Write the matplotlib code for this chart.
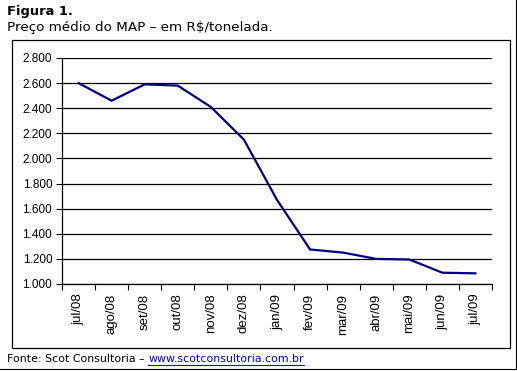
import matplotlib
matplotlib.use("Agg")
import matplotlib.pyplot as plt
from matplotlib.patches import Rectangle
from matplotlib.lines import Line2D
import numpy as np

# dados
meses = ["jul/08", "ago/08", "set/08", "out/08", "nov/08", "dez/08", "jan/09",
         "fev/09", "mar/09", "abr/09", "mai/09", "jun/09", "jul/09"]
preco = [2600, 2460, 2590, 2580, 2410, 2150, 1670, 1275, 1250, 1200, 1195, 1090, 1085]
yticks = [1000, 1200, 1400, 1600, 1800, 2000, 2200, 2400, 2600, 2800]
ylabels = ["1.000", "1.200", "1.400", "1.600", "1.800", "2.000", "2.200", "2.400", "2.600", "2.800"]

W, H = 517, 371
fig = plt.figure(figsize=(W / 100, H / 100), dpi=100)

def fx(px):
    return px / W

def fy(py):
    return 1 - py / H

# moldura externa (direita e base)
fig.add_artist(Line2D([fx(515.5), fx(515.5)], [fy(0), fy(368.5)], color="black", lw=0.8))
fig.add_artist(Line2D([fx(0), fx(515.5)], [fy(368.5), fy(368.5)], color="black", lw=0.8))

# caixa do gráfico
fig.add_artist(Rectangle((fx(12), fy(348)), fx(510) - fx(12), fy(40) - fy(348),
                         transform=fig.transFigure, fill=False, ec="black", lw=0.9))

# títulos
fig.text(fx(7), fy(11), "Figura 1.", fontsize=9.4, fontweight="bold",
         family="DejaVu Sans", va="center", ha="left")
fig.text(fx(7), fy(27), "Preço médio do MAP – em R$/tonelada.", fontsize=9.7,
         family="DejaVu Sans", va="center", ha="left")

# eixo
ax = fig.add_axes([fx(62), fy(284), fx(492) - fx(62), fy(58) - fy(284)])
x = np.arange(len(meses))
ax.plot(x, preco, color="#000080", lw=1.6, solid_joinstyle="miter")

ax.set_xlim(-0.5, len(meses) - 0.5)
ax.set_ylim(1000, 2800)
ax.set_yticks(yticks)
ax.set_yticklabels(ylabels, family="Liberation Sans", fontsize=8.5)
ax.yaxis.grid(True, color="black", lw=0.9)
ax.set_axisbelow(True)

ax.set_xticks(np.arange(len(meses) + 1) - 0.5)
ax.set_xticklabels([])
ax.set_xticks(x, minor=True)
ax.set_xticklabels(meses, minor=True, rotation=90, family="Liberation Sans", fontsize=9.5)
ax.tick_params(axis="x", which="minor", length=0, pad=7)
ax.tick_params(axis="x", which="major", direction="out", length=4, width=0.8)
ax.tick_params(axis="y", direction="out", length=4, width=0.8, pad=3)

for s in ["top", "right"]:
    ax.spines[s].set_visible(False)
for s in ["left", "bottom"]:
    ax.spines[s].set_linewidth(0.9)

# fonte
t1 = fig.text(fx(7), fy(359), "Fonte: Scot Consultoria – ", fontsize=7.9,
              family="DejaVu Sans", va="center", ha="left")
fig.canvas.draw()
bb = t1.get_window_extent()
link = fig.text(bb.x1 / W, fy(359), "www.scotconsultoria.com.br", fontsize=7.9,
                family="DejaVu Sans", va="center", ha="left", color="#0000cc")
fig.canvas.draw()
lb = link.get_window_extent()
fig.add_artist(Line2D([lb.x0 / W, lb.x1 / W], [fy(364.5), fy(364.5)], color="#0000cc", lw=0.7))

fig.savefig("out.png", dpi=100)
